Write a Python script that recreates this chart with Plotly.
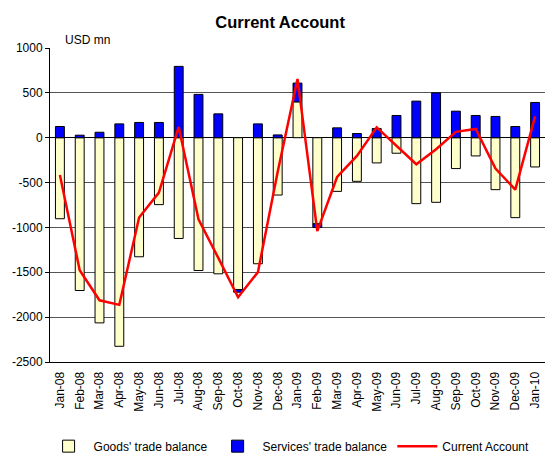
import plotly.graph_objects as go

months = ["Jan-08", "Feb-08", "Mar-08", "Apr-08", "May-08", "Jun-08", "Jul-08", "Aug-08",
          "Sep-08", "Oct-08", "Nov-08", "Dec-08", "Jan-09", "Feb-09", "Mar-09", "Apr-09",
          "May-09", "Jun-09", "Jul-09", "Aug-09", "Sep-09", "Oct-09", "Nov-09", "Dec-09", "Jan-10"]
goods = [-903, -1703, -2064, -2325, -1327, -746, -1123, -1480, -1517, -1692, -1405, -639,
         400, -960, -598, -486, -281, -173, -735, -720, -344, -203, -579, -891, -326]
services = [125, 28, 61, 154, 170, 170, 795, 483, 266, -30, 154, 31,
            209, -40, 110, 47, 103, 248, 408, 500, 296, 248, 237, 125, 393]
current = [-415, -1477, -1812, -1863, -890, -612, 120, -910, -1340, -1778, -1499, -380,
           655, -1041, -438, -203, 115, -92, -296, -128, 65, 98, -344, -579, 237]
y_ticks = [1000, 500, 0, -500, -1000, -1500, -2000, -2500]
y_tick_text = ["1000", "500", "0", "-500", "-1000", "-1500", "-2000", "-2500"]

FONT = "Liberation Sans, Arial, sans-serif"

fig = go.Figure()
fig.add_trace(go.Bar(x=months, y=goods, name="Goods' trade balance",
                     marker=dict(color="#FFFFCC", line=dict(color="#000000", width=1))))
fig.add_trace(go.Bar(x=months, y=services, name="Services' trade balance",
                     marker=dict(color="#0000FF", line=dict(color="#000000", width=1))))
fig.add_trace(go.Scatter(x=months, y=current, name="Current Account", mode="lines",
                         line=dict(color="#FF0000", width=2.5)))

n = len(months)
fig.update_layout(
    width=546, height=455,
    paper_bgcolor="white", plot_bgcolor="white",
    font=dict(family=FONT, size=12, color="#000000"),
    barmode="relative", bargap=0.55,
    margin=dict(l=50, r=1, t=48, b=93, autoexpand=False),
    title=dict(text="<b>Current Account</b>", x=0.513, xanchor="center",
               y=1 - 22 / 455, yanchor="middle", font=dict(size=16.5, family=FONT)),
    showlegend=True,
    legend=dict(orientation="h", x=0.483, xanchor="center", y=-0.268, yanchor="middle",
                font=dict(size=12), traceorder="normal", itemwidth=40,
                bgcolor="rgba(0,0,0,0)"),
    xaxis=dict(type="category", tickangle=-90, showgrid=False, ticks="",
               showline=True, linecolor="#000000", linewidth=1, ticklabelstandoff=4,
               tickfont=dict(size=12), range=[-0.5, n - 0.5]),
    xaxis2=dict(overlaying="x", anchor="free", position=(0 - (-2500)) / 3500,
                range=[-0.5, n - 0.5], tickvals=[i + 0.5 for i in range(n - 1)],
                ticks="outside", ticklen=4, tickcolor="#000000", showticklabels=False,
                showgrid=False, showline=False, side="bottom", zeroline=False),
    yaxis=dict(range=[-2500, 1000], tickvals=y_ticks, ticktext=y_tick_text,
               showgrid=True, gridcolor="#555555", gridwidth=1,
               zeroline=True, zerolinecolor="#000000", zerolinewidth=1,
               showline=True, linecolor="#000000", linewidth=1,
               ticks="outside", ticklen=4, tickcolor="#000000",
               tickfont=dict(size=12)),
    annotations=[dict(text="USD mn", x=(63 - 50) / 495, y=1 + (48 - 40) / 314,
                      xref="paper", yref="paper",
                      showarrow=False, xanchor="left", yanchor="middle",
                      font=dict(size=12))],
)

fig.write_html("out.html", config={"displayModeBar": False},
               post_script="document.body.style.margin='0';document.body.style.overflow='hidden';")
